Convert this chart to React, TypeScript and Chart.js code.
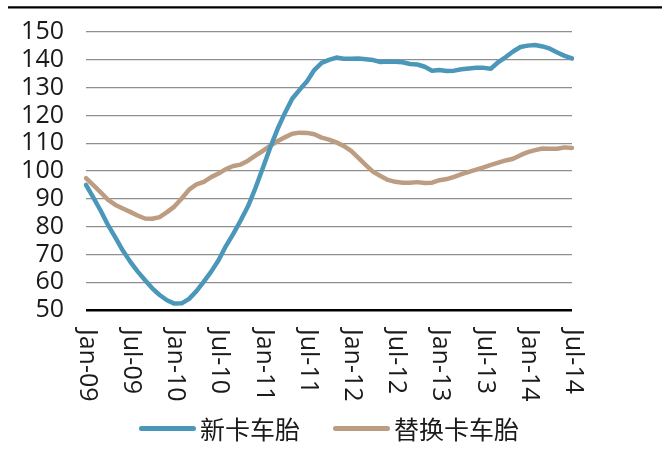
import React, { useEffect, useRef } from 'react';
import { Chart, registerables } from 'chart.js';

Chart.register(...registerables);

const MONTHS = ['Jan', 'Feb', 'Mar', 'Apr', 'May', 'Jun', 'Jul', 'Aug', 'Sep', 'Oct', 'Nov', 'Dec'];
const startYear = 2009;
const monthCount = 67; // Jan-09 .. Jul-14
const categories: string[] = [];
for (let i = 0; i < monthCount; i++) {
  const y = startYear + Math.floor(i / 12);
  categories.push(MONTHS[i % 12] + '-' + String(y % 100).padStart(2, '0'));
}

const xTickLabels = ['Jan-09', 'Jul-09', 'Jan-10', 'Jul-10', 'Jan-11', 'Jul-11', 'Jan-12', 'Jul-12', 'Jan-13', 'Jul-13', 'Jan-14', 'Jul-14'];

const seriesNames = ['新卡车胎', '替换卡车胎'];
const seriesColors = ['#4b97ba', '#bd9d82'];

const newTruckTires = [
  95, 90.4, 85.7, 80.5, 76, 71.4, 67.4, 63.9, 60.8, 57.8,
  55.4, 53.5, 52.3, 52.4, 54, 56.8, 60.2, 63.8, 67.9, 73,
  77.4, 82.2, 87.3, 93.8, 101, 108.3, 115, 120.8, 126, 129.2,
  132.2, 136.3, 138.9, 140, 140.8, 140.4, 140.4, 140.5, 140.2, 139.9,
  139.2, 139.4, 139.3, 139.1, 138.5, 138.3, 137.5, 136.1, 136.3, 136,
  136.1, 136.6, 136.9, 137.1, 137.1, 136.8, 139.2, 141, 143, 144.6,
  145.1, 145.3, 144.8, 144, 142.6, 141.4, 140.5,
];

const replacementTruckTires = [
  97.4, 94.9, 92.3, 89.6, 87.8, 86.5, 85.3, 84, 82.9, 82.8,
  83.4, 85.2, 87.2, 90.1, 93.3, 95.2, 96.1, 97.8, 99.1, 100.7,
  101.8, 102.3, 103.7, 105.5, 107.2, 109, 110.7, 112.1, 113.4, 113.8,
  113.7, 113.2, 112, 111.3, 110.3, 109, 107.2, 104.7, 102.1, 99.7,
  98.2, 96.8, 96.1, 95.8, 95.8, 96, 95.7, 95.8, 96.7, 97.1,
  97.9, 98.9, 99.7, 100.5, 101.3, 102.2, 103, 103.8, 104.4, 105.7,
  106.8, 107.5, 108.1, 108, 108, 108.5, 108.3,
];

const yMin = 50;
const yMax = 150;
const yStep = 10;

const FONT = '"Open Sans", "DejaVu Sans", sans-serif';
const CJK_FONT = '"Noto Sans CJK SC", "Noto Sans", sans-serif';

const decorPlugin = {
  id: 'decor',
  afterDraw(chart: any) {
    const ctx = chart.ctx;
    const area = chart.chartArea;
    const xs = chart.scales.x;
    ctx.save();
    // top rule
    ctx.strokeStyle = '#000';
    ctx.lineWidth = 2.3;
    ctx.beginPath();
    ctx.moveTo(8, 7.3);
    ctx.lineTo(chart.width, 7.3);
    ctx.stroke();

    // rotated x tick labels
    ctx.fillStyle = '#1a1a1a';
    ctx.font = '25px ' + FONT;
    ctx.textAlign = 'left';
    ctx.textBaseline = 'middle';
    xTickLabels.forEach((lab) => {
      const idx = categories.indexOf(lab);
      if (idx < 0) return;
      const px = xs.getPixelForValue(idx);
      ctx.save();
      ctx.translate(px + 1, area.bottom + 19);
      ctx.rotate(Math.PI / 2);
      ctx.fillText(lab, 0, 0);
      ctx.restore();
    });

    // legend
    const lineLen = 57;
    const gapText = 4;
    const itemGap = 33;
    ctx.font = '25px ' + CJK_FONT;
    const widths = seriesNames.map((n) => ctx.measureText(n).width);
    let total = 0;
    widths.forEach((w, i) => {
      total += lineLen + gapText + w + (i < widths.length - 1 ? itemGap : 0);
    });
    let x = (area.left + area.right) / 2 - total / 2;
    const ly = 428.5;
    seriesNames.forEach((name, i) => {
      ctx.strokeStyle = seriesColors[i];
      ctx.lineWidth = 5;
      ctx.lineCap = 'round';
      ctx.beginPath();
      ctx.moveTo(x + 2.5, ly);
      ctx.lineTo(x + lineLen - 2.5, ly);
      ctx.stroke();
      ctx.fillStyle = '#1a1a1a';
      ctx.textBaseline = 'middle';
      ctx.fillText(name, x + lineLen + gapText, ly + 1);
      x += lineLen + gapText + widths[i] + itemGap;
    });
    ctx.restore();
  },
};

export default function App() {
  const ref = useRef<HTMLCanvasElement | null>(null);
  useEffect(() => {
    if (!ref.current) return;
    const chart = new Chart(ref.current, {
      type: 'line',
      data: {
        labels: categories,
        datasets: [
          {
            label: seriesNames[0],
            data: newTruckTires,
            borderColor: seriesColors[0],
            backgroundColor: seriesColors[0],
            borderWidth: 4.5,
            pointRadius: 0,
            tension: 0,
            borderJoinStyle: 'round',
            borderCapStyle: 'round',
          },
          {
            label: seriesNames[1],
            data: replacementTruckTires,
            borderColor: seriesColors[1],
            backgroundColor: seriesColors[1],
            borderWidth: 4.5,
            pointRadius: 0,
            tension: 0,
            borderJoinStyle: 'round',
            borderCapStyle: 'round',
          },
        ],
      },
      options: {
        responsive: false,
        animation: false,
        layout: { padding: { left: 0, top: 32, right: 90, bottom: 149 } },
        plugins: { legend: { display: false }, tooltip: { enabled: false } },
        scales: {
          x: {
            display: false,
            offset: false,
          },
          y: {
            min: yMin,
            max: yMax,
            border: { display: false },
            grid: {
              drawTicks: false,
              color: (c: any) => (c.tick && c.tick.value === yMin ? '#000' : '#8f8f8f'),
              lineWidth: (c: any) => (c.tick && c.tick.value === yMin ? 2.6 : 1.2),
            },
            ticks: {
              stepSize: yStep,
              autoSkip: false,
              padding: 22,
              color: '#1a1a1a',
              font: { family: FONT, size: 25 },
            },
            afterFit: (s: any) => {
              s.width = 86;
              s.paddingTop = 0;
              s.paddingBottom = 0;
            },
          },
        },
      },
      plugins: [decorPlugin],
    });
    return () => chart.destroy();
  }, []);
  return (
    <div style={{ position: 'absolute', left: 0, top: 0, width: 662, height: 459, background: '#fff' }}>
      <canvas ref={ref} width={662} height={459} style={{ display: 'block' }} />
    </div>
  );
}
